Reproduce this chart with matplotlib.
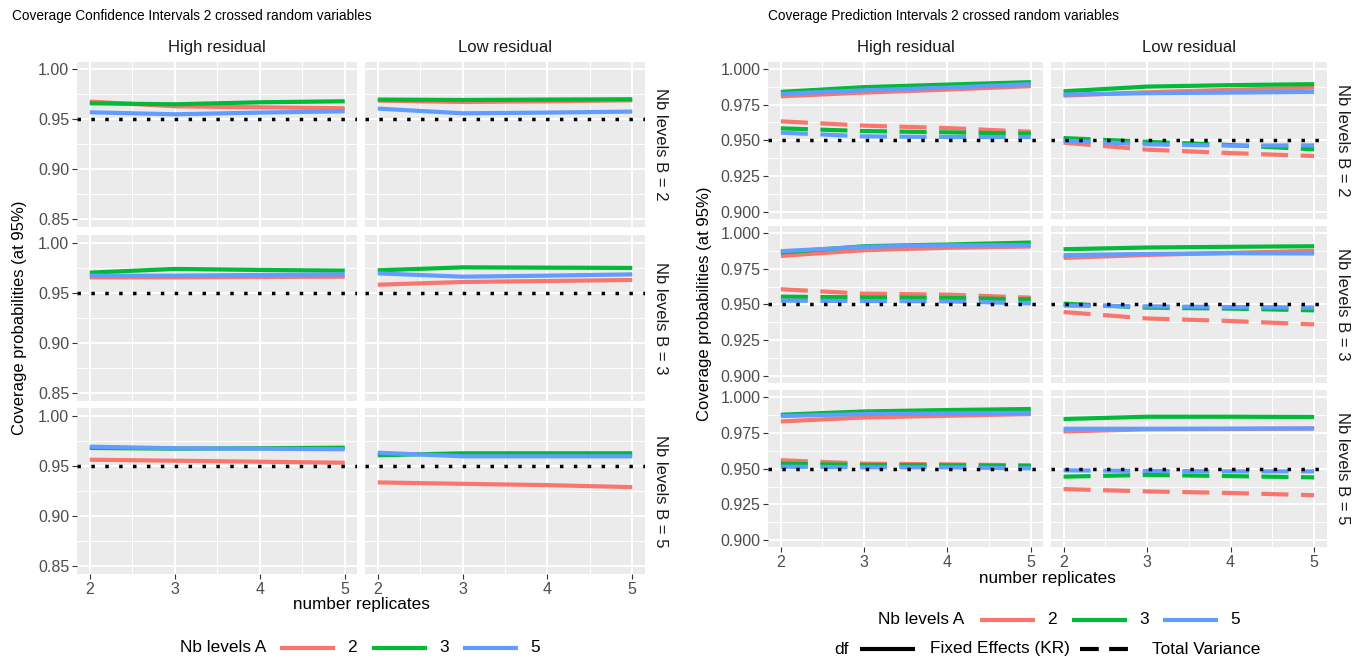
import matplotlib
matplotlib.use("Agg")
import matplotlib.pyplot as plt

plt.rcParams['font.family'] = ['Liberation Sans', 'DejaVu Sans']

# nombre de replicats (axe x)
replicates = [2, 3, 4, 5]
levels_a = [2, 3, 5]
levels_b = [2, 3, 5]
residuals = ['High residual', 'Low residual']

# intervalles de confiance
ci_high_b2 = {2: [0.9677, 0.963, 0.962, 0.961], 3: [0.966, 0.965, 0.967, 0.968], 5: [0.957, 0.955, 0.9567, 0.958]}
ci_low_b2 = {2: [0.9687, 0.9673, 0.968, 0.969], 3: [0.9697, 0.9693, 0.9697, 0.970], 5: [0.9607, 0.956, 0.9567, 0.9577]}
ci_high_b3 = {2: [0.9653, 0.9653, 0.9657, 0.966], 3: [0.970, 0.9737, 0.9727, 0.972], 5: [0.967, 0.967, 0.9677, 0.9683]}
ci_low_b3 = {2: [0.958, 0.9607, 0.9617, 0.9627], 3: [0.9723, 0.9753, 0.975, 0.9747], 5: [0.9693, 0.966, 0.967, 0.9683]}
ci_high_b5 = {2: [0.9563, 0.9553, 0.9543, 0.9533], 3: [0.968, 0.9673, 0.9677, 0.9683], 5: [0.9693, 0.9677, 0.9673, 0.9667]}
ci_low_b5 = {2: [0.9337, 0.9323, 0.931, 0.929], 3: [0.9607, 0.9627, 0.9627, 0.9627], 5: [0.9633, 0.9597, 0.9597, 0.9597]}

# intervalles de prediction : df Fixed Effects (KR) et Total Variance
pi_fixed_high_b2 = {2: [0.9808, 0.9834, 0.9855, 0.9879], 3: [0.9839, 0.9872, 0.989, 0.9907], 5: [0.9825, 0.985, 0.9869, 0.9893]}
pi_total_high_b2 = {2: [0.9633, 0.9603, 0.9586, 0.956], 3: [0.9584, 0.9565, 0.9556, 0.9547], 5: [0.9554, 0.9528, 0.9523, 0.9523]}
pi_fixed_low_b2 = {2: [0.9813, 0.9836, 0.9853, 0.9869], 3: [0.9843, 0.9876, 0.9886, 0.9893], 5: [0.982, 0.983, 0.9834, 0.9839]}
pi_total_low_b2 = {2: [0.9484, 0.9435, 0.9411, 0.939], 3: [0.9516, 0.949, 0.9467, 0.9437], 5: [0.9498, 0.9472, 0.9463, 0.9465]}
pi_fixed_high_b3 = {2: [0.984, 0.988, 0.9897, 0.9906], 3: [0.9864, 0.9908, 0.992, 0.9934], 5: [0.9873, 0.9904, 0.9915, 0.9915]}
pi_total_high_b3 = {2: [0.9606, 0.9575, 0.9568, 0.9547], 3: [0.9554, 0.9549, 0.9545, 0.9535], 5: [0.9526, 0.9523, 0.9521, 0.9507]}
pi_fixed_low_b3 = {2: [0.9826, 0.9847, 0.9861, 0.9876], 3: [0.9887, 0.9899, 0.9904, 0.9908], 5: [0.9845, 0.9854, 0.9859, 0.9857]}
pi_total_low_b3 = {2: [0.9446, 0.9401, 0.9383, 0.9359], 3: [0.9505, 0.9477, 0.947, 0.9458], 5: [0.9491, 0.9486, 0.9481, 0.9477]}
pi_fixed_high_b5 = {2: [0.983, 0.9858, 0.987, 0.9882], 3: [0.9877, 0.99, 0.991, 0.9917], 5: [0.9868, 0.9882, 0.9886, 0.9891]}
pi_total_high_b5 = {2: [0.9559, 0.9535, 0.953, 0.9523], 3: [0.9535, 0.9526, 0.9523, 0.9519], 5: [0.9514, 0.9509, 0.9509, 0.9502]}
pi_fixed_low_b5 = {2: [0.976, 0.9775, 0.9777, 0.9781], 3: [0.9847, 0.9863, 0.9863, 0.9861], 5: [0.9779, 0.9779, 0.978, 0.9781]}
pi_total_low_b5 = {2: [0.9357, 0.9341, 0.933, 0.9314], 3: [0.9444, 0.9456, 0.9448, 0.9439], 5: [0.9488, 0.9484, 0.9481, 0.9481]}

ci_yticks = [0.85, 0.90, 0.95, 1.00]
pi_yticks = [0.900, 0.925, 0.950, 0.975, 1.000]
target = 0.95

colors = {2: '#F8766D', 3: '#00BA38', 5: '#619CFF'}
DASHED = (0, (6.5, 3.0))
DOTTED = (0, (1, 3))

W, H = 1359, 663
fig = plt.figure(figsize=(W / 100, H / 100), dpi=100)


def px_axes(x0, y0, x1, y1):
    return fig.add_axes([x0 / W, 1 - y1 / H, (x1 - x0) / W, (y1 - y0) / H])


def style(ax, ylim, yticks, yminor, yfmt, show_y, show_x):
    ax.set_facecolor('#EBEBEB')
    for s in ax.spines.values():
        s.set_visible(False)
    ax.set_xlim(1.85, 5.15)
    ax.set_ylim(*ylim)
    ax.set_xticks(replicates)
    ax.set_xticks([2.5, 3.5, 4.5], minor=True)
    ax.set_yticks(yticks)
    ax.set_yticks(yminor, minor=True)
    ax.grid(True, which='major', color='white', lw=1.4)
    ax.grid(True, which='minor', color='white', lw=0.7)
    ax.set_axisbelow(True)
    ax.tick_params(which='minor', length=0)
    ax.tick_params(which='major', length=3.5, width=0.8, color='#333333',
                   labelsize=11.5, labelcolor='#4D4D4D', pad=2)
    if show_y:
        ax.set_yticklabels([yfmt % v for v in yticks])
    else:
        ax.tick_params(axis='y', which='major', length=0, labelleft=False)
    if not show_x:
        ax.tick_params(axis='x', which='major', length=0, labelbottom=False)


# ---- graphique de gauche : intervalles de confiance
ci_data = [[ci_high_b2, ci_low_b2], [ci_high_b3, ci_low_b3], [ci_high_b5, ci_low_b5]]
ci_cols = [(77, 357.5), (365, 645)]
ci_rows = [(61.7, 227), (235, 400.7), (408.3, 574)]
for r, (y0, y1) in enumerate(ci_rows):
    for c, (x0, x1) in enumerate(ci_cols):
        ax = px_axes(x0, y0, x1, y1)
        style(ax, (0.8425, 1.0075), ci_yticks, [0.875, 0.925, 0.975], '%.2f', c == 0, r == 2)
        for a in levels_a:
            ax.plot(replicates, ci_data[r][c][a], color=colors[a], lw=3, solid_capstyle='butt')
        ax.axhline(target, color='black', lw=2.5, ls=DOTTED)
        if r == 0:
            ax.set_title(residuals[c], fontsize=12, color='#1A1A1A', pad=7)
        if c == 1:
            ax.text(1.03, 0.5, 'Nb levels B = %d' % levels_b[r], transform=ax.transAxes,
                    rotation=-90, va='center', ha='left', fontsize=12, color='#1A1A1A')

fig.text(12 / W, 1 - 16 / H, 'Coverage Confidence Intervals 2 crossed random variables',
         fontsize=9.8, va='center', ha='left')
fig.text(20 / W, 1 - 318 / H, 'Coverage probabilities (at 95%)', rotation=90,
         fontsize=12, va='center', ha='center')
fig.text(361 / W, 1 - 605 / H, 'number replicates', fontsize=12.3, va='center', ha='center')

# ---- graphique de droite : intervalles de prediction
pi_fixed = [[pi_fixed_high_b2, pi_fixed_low_b2], [pi_fixed_high_b3, pi_fixed_low_b3],
            [pi_fixed_high_b5, pi_fixed_low_b5]]
pi_total = [[pi_total_high_b2, pi_total_low_b2], [pi_total_high_b3, pi_total_low_b3],
            [pi_total_high_b5, pi_total_low_b5]]
pi_cols = [(768.3, 1043.3), (1051, 1326.7)]
pi_rows = [(61.7, 219), (226, 382.7), (390, 547.3)]
for r, (y0, y1) in enumerate(pi_rows):
    for c, (x0, x1) in enumerate(pi_cols):
        ax = px_axes(x0, y0, x1, y1)
        style(ax, (0.895, 1.005), pi_yticks, [0.9125, 0.9375, 0.9625, 0.9875], '%.3f', c == 0, r == 2)
        for a in levels_a:
            ax.plot(replicates, pi_fixed[r][c][a], color=colors[a], lw=3, solid_capstyle='butt')
            ax.plot(replicates, pi_total[r][c][a], color=colors[a], lw=3, ls=DASHED, dash_capstyle='butt')
        ax.axhline(target, color='black', lw=2.5, ls=DOTTED)
        if r == 0:
            ax.set_title(residuals[c], fontsize=12, color='#1A1A1A', pad=7)
        if c == 1:
            ax.text(1.03, 0.5, 'Nb levels B = %d' % levels_b[r], transform=ax.transAxes,
                    rotation=-90, va='center', ha='left', fontsize=12, color='#1A1A1A')

fig.text(768 / W, 1 - 16 / H, 'Coverage Prediction Intervals 2 crossed random variables',
         fontsize=9.8, va='center', ha='left')
fig.text(705 / W, 1 - 304 / H, 'Coverage probabilities (at 95%)', rotation=90,
         fontsize=12, va='center', ha='center')
fig.text(1047 / W, 1 - 578 / H, 'number replicates', fontsize=12.3, va='center', ha='center')

# ---- legendes
lg = fig.add_axes([0, 0, 1, 1], facecolor='none')
lg.set_xlim(0, W)
lg.set_ylim(H, 0)
lg.axis('off')


def legend_row(ax, y, x_title_end, title, items):
    ax.text(x_title_end, y, title, fontsize=12.4, va='center', ha='right')
    for xk, color, ls, label in items:
        ax.plot([xk, xk + 55], [y, y], color=color, lw=3, ls=ls, solid_capstyle='butt', dash_capstyle='butt')
        ax.text(xk + 67, y, label, fontsize=12.4, va='center', ha='left')


legend_row(lg, 648, 266, 'Nb levels A',
           [(280, colors[2], '-', '2'), (372, colors[3], '-', '3'), (463, colors[5], '-', '5')])
legend_row(lg, 620, 964, 'Nb levels A',
           [(980, colors[2], '-', '2'), (1072, colors[3], '-', '3'), (1163, colors[5], '-', '5')])
lg.text(849, 649, 'df', fontsize=12.4, va='center', ha='right')
lg.plot([860, 915], [649, 649], color='black', lw=3, solid_capstyle='butt')
lg.text(930, 649, 'Fixed Effects (KR)', fontsize=12.4, va='center', ha='left')
lg.plot([1080, 1135], [649, 649], color='black', lw=3, ls=(0, (4.5, 2.5)), dash_capstyle='butt')
lg.text(1152, 649, 'Total Variance', fontsize=12.4, va='center', ha='left')

fig.savefig('out.png', dpi=100)
